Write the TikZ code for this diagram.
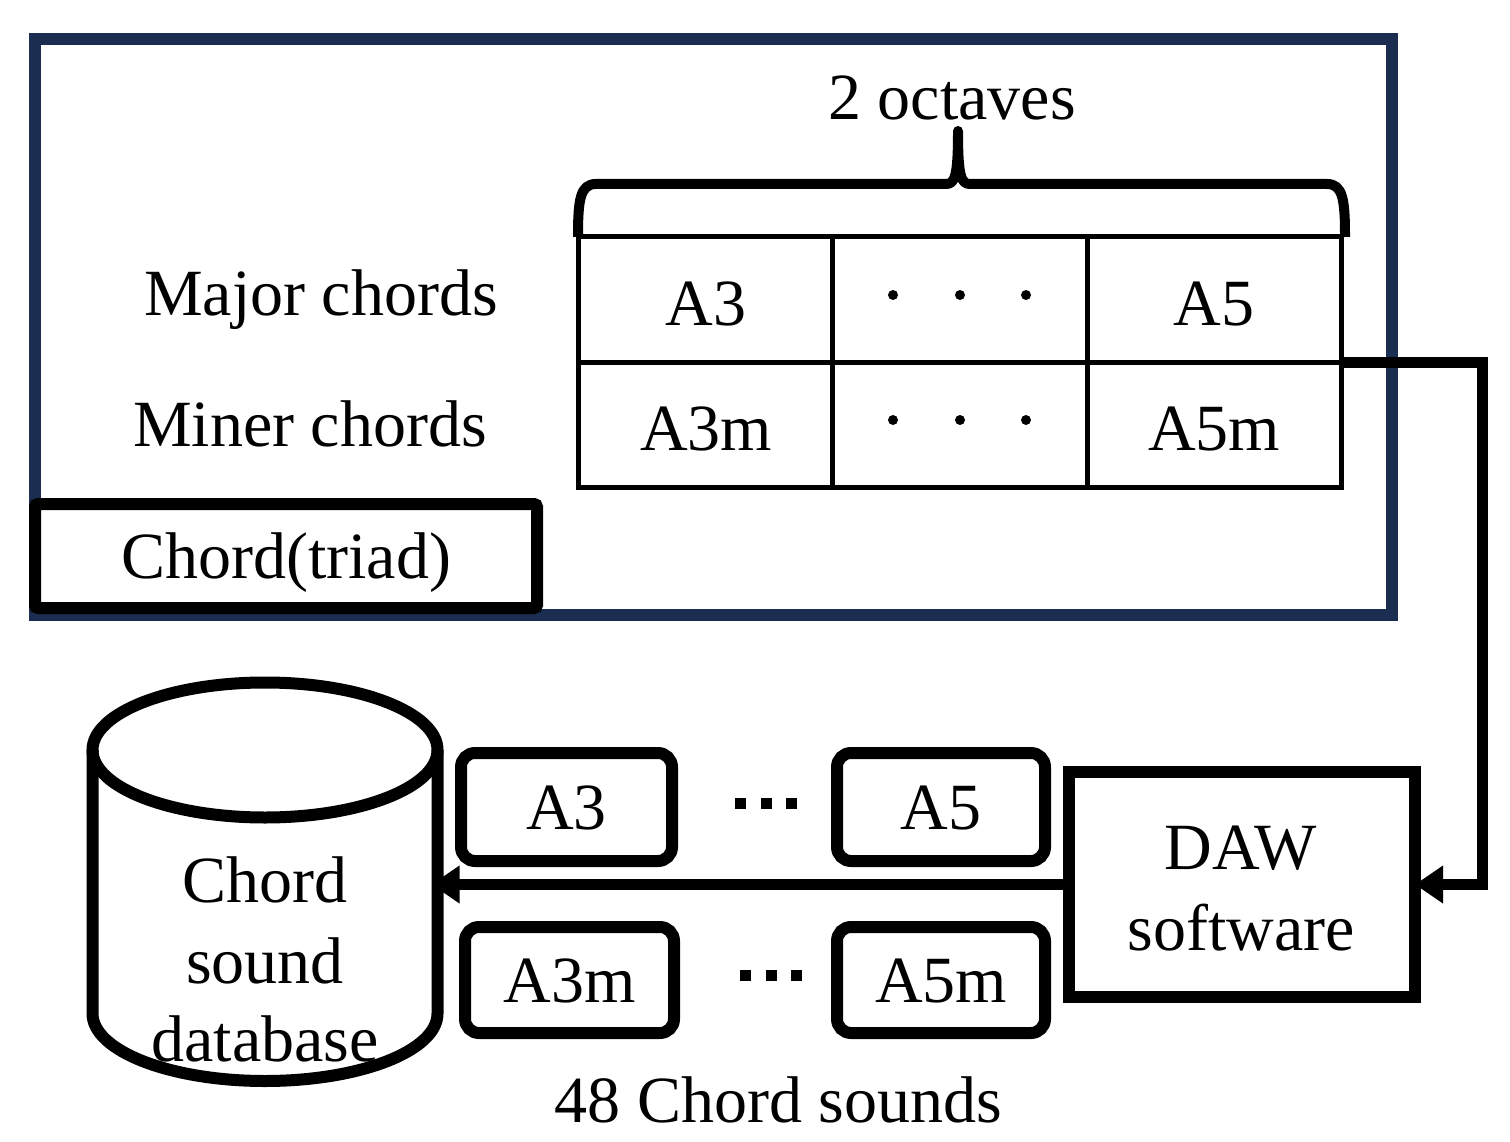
\documentclass[tikz,border=0pt]{standalone}
\usepackage{fontspec}
\setmainfont{Liberation Serif}
\usetikzlibrary{arrows.meta}
\definecolor{navy}{RGB}{27,45,80}
\begin{document}
\begin{tikzpicture}[x=1pt,y=-1pt,
  every node/.style={font=\fontsize{66}{78}\selectfont, inner sep=0pt},
  lbl/.style={anchor=base},
  boxtext/.style={text height=44pt, text depth=0pt},
  soundbox/.style={draw, line width=12pt, rounded corners=14pt, minimum height=108pt, boxtext},
  conn/.style={line width=11pt, -{Triangle[length=28pt,width=36pt]}},
  tblline/.style={line width=5pt},
]
\useasboundingbox (0,0) rectangle (1510,1142);

% outer frame
\node (frame) [draw=navy, line width=12pt, minimum width=1357pt, minimum height=576pt] at (713.5,327) {};

% brace and label
\node (oct) [lbl] at (952,120) {2 octaves};
\draw[line width=10pt, line join=round] (578,237) .. controls (578,200) and (580,184) .. (596,184) -- (946,184)
  .. controls (955,184) and (958,176) .. (958,131)
  .. controls (958,176) and (961,184) .. (970,184) -- (1327,184)
  .. controls (1343,184) and (1345,200) .. (1345,237);

% row labels
\node (major) [lbl] at (321,315) {Major chords};
\node (minor) [lbl] at (310,446) {Miner chords};

% table
\node (table) [draw, tblline, minimum width=763pt, minimum height=250pt] at (959.5,362) {};
\draw[tblline] (832,237) -- (832,487);
\draw[tblline] (1087,237) -- (1087,487);
\draw[tblline] (table.west) -- (table.east);
\node (ta3) [lbl] at (706,325) {A3};
\node (ta5) [lbl] at (1214,325) {A5};
\node (ta3m) [lbl] at (706,450) {A3m};
\node (ta5m) [lbl] at (1214,450) {A5m};
\foreach \x in {893,960,1026} {
  \fill (\x,295) circle[radius=5pt];
  \fill (\x,420) circle[radius=5pt];
}

% chord(triad) box
\node (triad) [draw, fill=white, line width=12pt, rounded corners=3pt, minimum width=502pt, minimum height=104pt, boxtext] at (286,556) {Chord(triad)};

% cylinder
\draw[line width=12pt, fill=white] (92.5,750) -- (92.5,1013.5)
  .. controls (92.5,1050.8) and (169.7,1081) .. (265,1081)
  .. controls (360.3,1081) and (437.5,1050.8) .. (437.5,1013.5) -- (437.5,750);
\draw[line width=12pt] (265,750) ellipse [x radius=172.5pt, y radius=67.5pt];
\coordinate (dbeast) at (437.5,884.5);
\node (db1) [lbl] at (265,902) {Chord};
\node (db2) [lbl] at (265,983) {sound};
\node (db3) [lbl] at (265,1061) {database};

% sound boxes
\node (s1) [soundbox, minimum width=211pt] at (566.5,807) {A3};
\node (s2) [soundbox, minimum width=208pt] at (941,807) {A5};
\node (s3) [soundbox, minimum width=209pt, minimum height=106pt] at (569.5,980) {A3m};
\node (s4) [soundbox, minimum width=208pt, minimum height=106pt] at (941,980) {A5m};
\foreach \x in {740,766,791} {\fill (\x-5.5,797.5) rectangle +(11,11);}
\foreach \x in {745,771,796} {\fill (\x-5.5,969.5) rectangle +(11,11);}
\node (count) [lbl] at (778.5,1122) {48 Chord sounds};

% DAW box
\node (daw) [draw, line width=12pt, minimum width=346pt, minimum height=225pt] at (1242,884.5) {};
\node (daw1) [lbl] at (1241,869) {DAW};
\node (daw2) [lbl] at (1241,950) {software};

% connectors
\coordinate (bend1) at (1482,362);
\coordinate (bend2) at (1482,884.5);
\draw[conn, shorten >=-6pt, line join=miter] (table.east) -- (bend1) -- (bend2) -- (daw.east);
\draw[conn, shorten >=-6pt] (daw.west) -- (dbeast);
\end{tikzpicture}
\end{document}
